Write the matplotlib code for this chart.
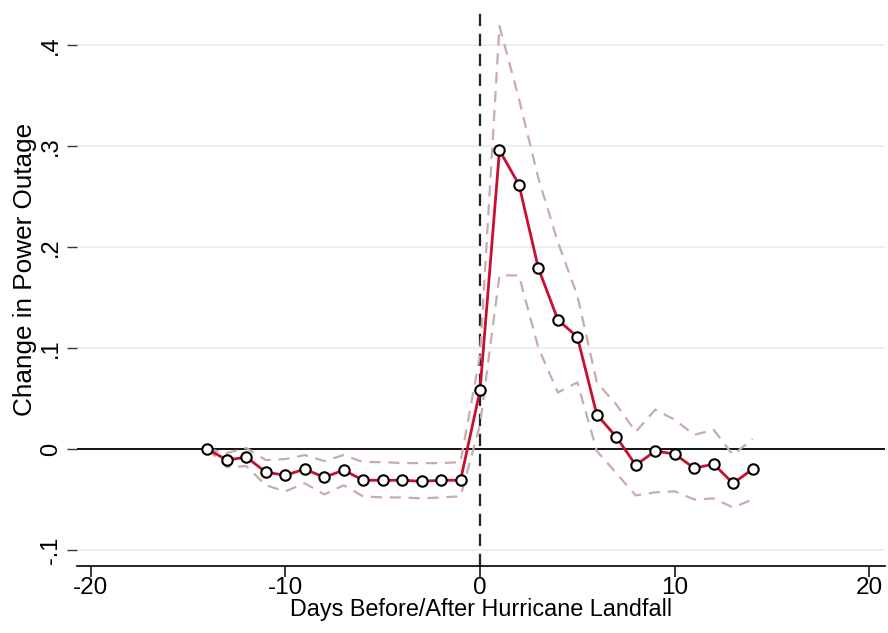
import matplotlib.pyplot as plt

plt.rcParams['font.family'] = ['Liberation Sans', 'DejaVu Sans']
plt.rcParams['axes.unicode_minus'] = False

# Event-study estimates: days relative to landfall
days = list(range(-14, 15))
coef = [0.000, -0.011, -0.008, -0.023, -0.026, -0.020, -0.028, -0.021, -0.031, -0.031,
        -0.031, -0.032, -0.031, -0.031, 0.058, 0.296, 0.262, 0.179, 0.128, 0.111,
        0.034, 0.012, -0.016, -0.002, -0.005, -0.019, -0.015, -0.034, -0.020]
ci_upper = [0.000, -0.004, 0.001, -0.011, -0.010, -0.006, -0.012, -0.006, -0.013, -0.013,
            -0.014, -0.014, -0.014, -0.013, 0.093, 0.419, 0.347, 0.268, 0.205, 0.152,
            0.066, 0.044, 0.017, 0.039, 0.029, 0.014, 0.019, -0.006, 0.010]
ci_lower = [0.000, -0.018, -0.017, -0.036, -0.042, -0.034, -0.045, -0.036, -0.047, -0.048,
            -0.048, -0.049, -0.048, -0.047, 0.024, 0.172, 0.172, 0.100, 0.056, 0.066,
            -0.002, -0.024, -0.046, -0.043, -0.042, -0.050, -0.049, -0.058, -0.050]

yticks = [-0.1, 0.0, 0.1, 0.2, 0.3, 0.4]
yticklabels = ['-.1', '0', '.1', '.2', '.3', '.4']
xticks = [-20, -10, 0, 10, 20]

fig = plt.figure(figsize=(8.88, 6.33), dpi=100)
ax = fig.add_axes([0.0867, 0.1058, 0.9099, 0.8815])

for y in yticks:
    if y != 0:
        ax.axhline(y, color='#e6eef0', lw=1.2, zorder=0)
ax.axhline(0, color='black', lw=1.3, zorder=1)
ax.axvline(0, color='#222222', lw=1.6, ls=(0, (5.5, 3.5)), zorder=1)

ci_style = dict(color='#c9aca7', lw=1.6, ls=(0, (5, 3.5)), zorder=2)
ax.plot(days, ci_upper, **ci_style)
ax.plot(days, ci_lower, **ci_style)
ax.plot(days, coef, color='#c8102e', lw=2, marker='o', ms=7.5, mfc='white',
        mec='black', mew=1.5, zorder=3)

ax.set_xlim(-20.7, 20.8)
ax.set_ylim(-0.116, 0.437)
ax.set_xticks(xticks)
ax.set_yticks(yticks)
ax.set_yticklabels(yticklabels, rotation=90, va='center')

for side in ['top', 'right', 'left']:
    ax.spines[side].set_visible(False)
ax.spines['bottom'].set_linewidth(1.2)

ax.tick_params(axis='x', length=8, width=1.1, labelsize=17.5, pad=0)
ax.tick_params(axis='y', length=7, width=1.0, labelsize=17, pad=4, color='#333333')

ax.set_xlabel('Days Before/After Hurricane Landfall', fontsize=16.8, labelpad=-1)
ax.set_ylabel('Change in Power Outage', fontsize=18.8)
ax.yaxis.set_label_coords(-0.05, 0.532)

fig.savefig('out.png', dpi=100)
